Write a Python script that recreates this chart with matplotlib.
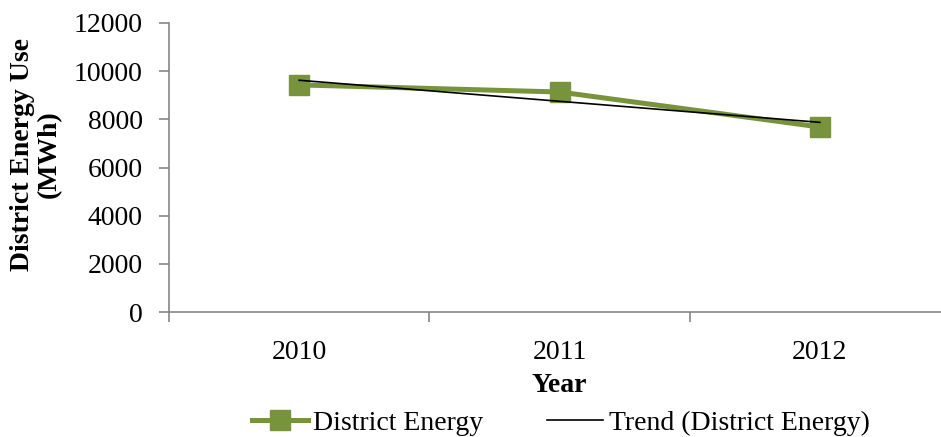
import numpy as np
import matplotlib
matplotlib.use("Agg")
import matplotlib.pyplot as plt

years = ["2010", "2011", "2012"]
district_energy = [9430, 9135, 7682]
y_ticks = [0, 2000, 4000, 6000, 8000, 10000, 12000]

plt.rcParams['font.family'] = ['Liberation Serif', 'DejaVu Serif']

fig = plt.figure(figsize=(9.41, 4.37), dpi=100)
ax = fig.add_axes([169/941, 125/437, 781/941, 289/437])

x = np.arange(len(years))
green = '#77933C'
ax.plot(x, district_energy, color=green, lw=3.6, marker='s', ms=14,
        label='District Energy', zorder=3)

# linear trend, like the Excel trendline
coef = np.polyfit(x, district_energy, 1)
ax.plot(x, np.polyval(coef, x), color='black', lw=1.2,
        label='Trend (District Energy)', zorder=4)

ax.set_xlim(-0.5, len(years) - 0.5)
ax.set_ylim(0, 12000)
ax.set_yticks(y_ticks)
ax.set_xticks(np.arange(len(years) + 1) - 0.5)
ax.set_xticklabels([])
ax.set_xticks(x, minor=True)
ax.set_xticklabels(years, minor=True)

fs = 20
for s in ['top', 'right']:
    ax.spines[s].set_visible(False)
for s in ['left', 'bottom']:
    ax.spines[s].set_color('#868686')
    ax.spines[s].set_linewidth(1.2)
ax.tick_params(axis='both', which='major', color='#868686', length=7, width=1.2,
               labelsize=fs)
ax.tick_params(axis='x', which='minor', length=0, labelsize=fs, pad=20)
ax.tick_params(axis='y', pad=12)

ax.set_xlabel('Year', fontsize=fs, fontweight='bold', labelpad=6)
ax.set_ylabel('District Energy Use\n(MWh)', fontsize=20, fontweight='bold',
              linespacing=1.1)
ax.yaxis.set_label_coords(-0.137, 0.545)

fig.legend(loc='lower center', bbox_to_anchor=(0.596, -0.055), ncol=2, frameon=False,
           fontsize=fs, handlelength=2.0, handletextpad=0.2, columnspacing=2.3)

fig.savefig('out.png', dpi=100)
